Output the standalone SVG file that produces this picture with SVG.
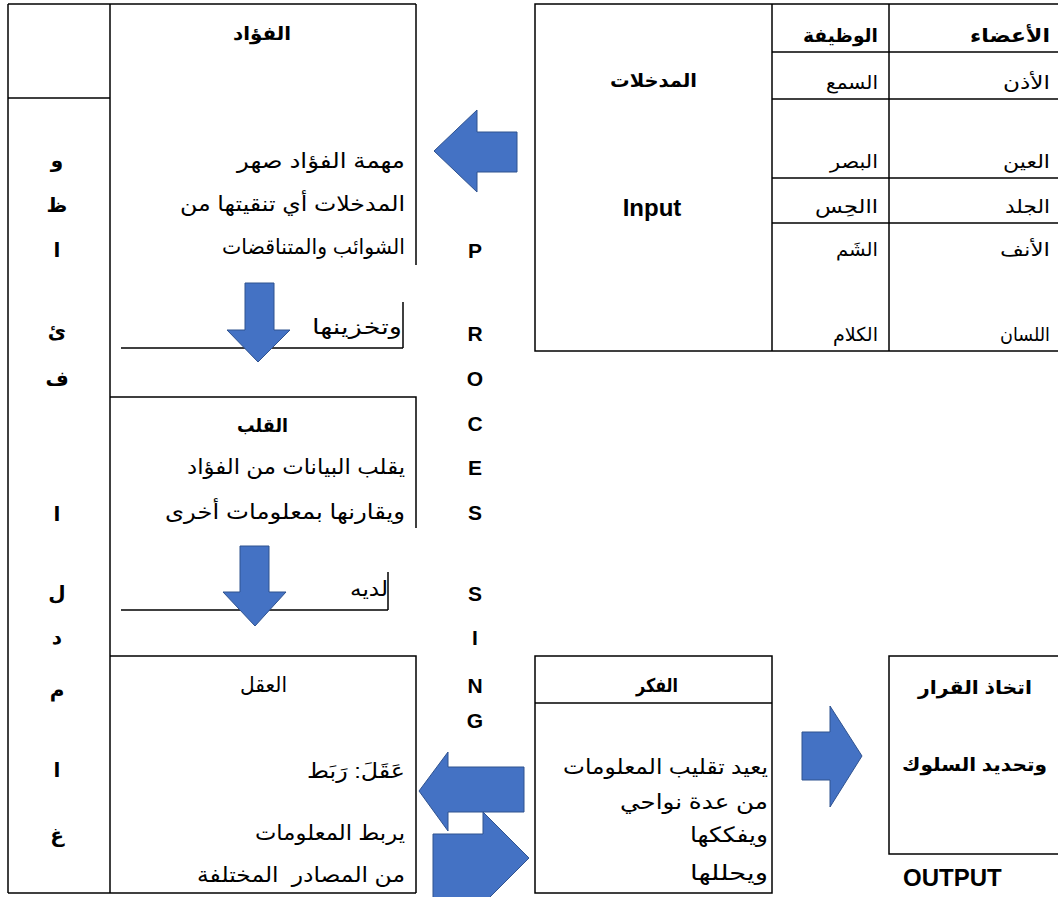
<svg xmlns="http://www.w3.org/2000/svg" width="1058" height="897" viewBox="0 0 1058 897">
<style>
  .ln { stroke: #000; stroke-width: 1.5; fill: none; }
  .bx { stroke: #000; stroke-width: 1.5; fill: #fff; }
  .ar { font-family: "Liberation Sans", "DejaVu Sans", sans-serif; font-size: 21px; fill: #000; }
  .hd { font-family: "Liberation Sans", "DejaVu Sans", sans-serif; font-size: 19px; font-weight: bold; fill: #000; }
  .tb { font-family: "Liberation Sans", "DejaVu Sans", sans-serif; font-size: 19px; fill: #000; }
  .sd { font-family: "Liberation Sans", "DejaVu Sans", sans-serif; font-size: 20px; font-weight: bold; fill: #000; text-anchor: middle; }
  .en { font-family: "Liberation Sans", Arial, sans-serif; font-weight: bold; fill: #000; }
  .arrow { fill: #4472C4; stroke: #2F528F; stroke-width: 1; }
  .r { text-anchor: end; }
  .c { text-anchor: middle; }
</style>
<rect width="1058" height="897" fill="#fff"/>

<g id="left-frame">
  <line class="ln" x1="8" y1="4" x2="416" y2="4" stroke-width="2"/>
  <line class="ln" x1="8" y1="4" x2="8" y2="893"/>
  <line class="ln" x1="110" y1="4" x2="110" y2="893"/>
  <line class="ln" x1="8" y1="98" x2="110" y2="98"/>
  <line class="ln" x1="8" y1="893" x2="416" y2="893"/>
</g>

<g id="side-title">
  <text class="sd" x="57" y="167">و</text>
  <text class="sd" x="57" y="212">ظ</text>
  <text class="sd" x="57" y="257">ا</text>
  <text class="sd" x="57" y="338">ئ</text>
  <text class="sd" x="57" y="386">ف</text>
  <text class="sd" x="57" y="521">ا</text>
  <text class="sd" x="57" y="600">ل</text>
  <text class="sd" x="57" y="644">د</text>
  <text class="sd" x="57" y="697">م</text>
  <text class="sd" x="57" y="777">ا</text>
  <text class="sd" x="57" y="842">غ</text>
</g>

<g id="fuad">
  <line class="ln" x1="416" y1="4" x2="416" y2="265"/>
  <text class="hd r" x="291" y="40" textLength="58" lengthAdjust="spacingAndGlyphs">الفؤاد</text>
  <text class="ar r" x="405" y="168" textLength="168" lengthAdjust="spacingAndGlyphs">مهمة الفؤاد صهر</text>
  <text class="ar r" x="405" y="211" textLength="225" lengthAdjust="spacingAndGlyphs">المدخلات أي تنقيتها من</text>
  <text class="ar r" x="405" y="254" textLength="183" lengthAdjust="spacingAndGlyphs">الشوائب والمتناقضات</text>
  <text class="ar r" x="402" y="334" textLength="90" lengthAdjust="spacingAndGlyphs">وتخزينها</text>
  <line class="ln" x1="403" y1="302" x2="403" y2="348"/>
  <line class="ln" x1="121" y1="348" x2="403" y2="348"/>
</g>

<g id="qalb">
  <polyline class="ln" points="110,397 416,397 416,528"/>
  <text class="hd r" x="288" y="432" textLength="51" lengthAdjust="spacingAndGlyphs">القلب</text>
  <text class="ar r" x="405" y="474" textLength="218" lengthAdjust="spacingAndGlyphs">يقلب البيانات من الفؤاد</text>
  <text class="ar r" x="405" y="519" textLength="240" lengthAdjust="spacingAndGlyphs">ويقارنها بمعلومات أخرى</text>
  <text class="ar r" x="388" y="596" textLength="38" lengthAdjust="spacingAndGlyphs">لديه</text>
  <line class="ln" x1="388" y1="572" x2="388" y2="610"/>
  <line class="ln" x1="121" y1="610" x2="388" y2="610"/>
</g>

<g id="aql">
  <polyline class="ln" points="110,656 416,656 416,893"/>
  <text class="ar r" x="287" y="692" textLength="47" lengthAdjust="spacingAndGlyphs">العقل</text>
  <text class="ar r" x="405" y="778" textLength="98" lengthAdjust="spacingAndGlyphs">عَقَلَ: رَبَط</text>
  <text class="ar r" x="405" y="840" textLength="150" lengthAdjust="spacingAndGlyphs">يربط المعلومات</text>
  <text class="ar r" x="405" y="882" xml:space="preserve" textLength="208" lengthAdjust="spacingAndGlyphs">من المصادر  المختلفة</text>
</g>

<g id="processing">
  <text class="en c" x="475" y="258" font-size="21">P</text>
  <text class="en c" x="475" y="341" font-size="21">R</text>
  <text class="en c" x="475" y="386" font-size="21">O</text>
  <text class="en c" x="475" y="431" font-size="21">C</text>
  <text class="en c" x="475" y="475" font-size="21">E</text>
  <text class="en c" x="475" y="520" font-size="21">S</text>
  <text class="en c" x="475" y="601" font-size="21">S</text>
  <text class="en c" x="475" y="645" font-size="21">I</text>
  <text class="en c" x="475" y="693" font-size="21">N</text>
  <text class="en c" x="475" y="728" font-size="21">G</text>
</g>

<g id="inputs">
  <rect class="bx" x="535" y="4" width="530" height="347" stroke-width="2"/>
  <line class="ln" x1="772" y1="4" x2="772" y2="351" stroke-width="2.5"/>
  <line class="ln" x1="889" y1="4" x2="889" y2="351"/>
  <line class="ln" x1="772" y1="52" x2="1058" y2="52" stroke-width="2"/>
  <line class="ln" x1="772" y1="99" x2="1058" y2="99"/>
  <line class="ln" x1="772" y1="178" x2="1058" y2="178"/>
  <line class="ln" x1="772" y1="223" x2="1058" y2="223"/>
  <text class="hd r" x="697" y="87" textLength="87" lengthAdjust="spacingAndGlyphs">المدخلات</text>
  <text class="en c" x="652" y="216" font-size="24">Input</text>
  <text class="hd r" x="1050" y="42" textLength="80" lengthAdjust="spacingAndGlyphs">الأعضاء</text>
  <text class="hd r" x="878" y="42" textLength="75" lengthAdjust="spacingAndGlyphs">الوظيفة</text>
  <text class="tb r" x="1050" y="89" textLength="47" lengthAdjust="spacingAndGlyphs">الأذن</text>
  <text class="tb r" x="878" y="89" textLength="52" lengthAdjust="spacingAndGlyphs">السمع</text>
  <text class="tb r" x="1050" y="168" textLength="47" lengthAdjust="spacingAndGlyphs">العين</text>
  <text class="tb r" x="878" y="168" textLength="48" lengthAdjust="spacingAndGlyphs">البصر</text>
  <text class="tb r" x="1050" y="213" textLength="45" lengthAdjust="spacingAndGlyphs">الجلد</text>
  <text class="tb r" x="878" y="213" textLength="63" lengthAdjust="spacingAndGlyphs">االحِس</text>
  <text class="tb r" x="1050" y="256" textLength="50" lengthAdjust="spacingAndGlyphs">الأنف</text>
  <text class="tb r" x="878" y="256" textLength="42" lengthAdjust="spacingAndGlyphs">الشَم</text>
  <text class="tb r" x="1050" y="341" textLength="50" lengthAdjust="spacingAndGlyphs">اللسان</text>
  <text class="tb r" x="878" y="341" textLength="45" lengthAdjust="spacingAndGlyphs">الكلام</text>
</g>

<g id="fikr">
  <rect class="bx" x="535" y="656" width="237" height="237"/>
  <line class="ln" x1="535" y1="703" x2="772" y2="703"/>
  <text class="hd r" x="678" y="692" textLength="42" lengthAdjust="spacingAndGlyphs">الفكر</text>
  <text class="ar r" x="768" y="774" textLength="205" lengthAdjust="spacingAndGlyphs">يعيد تقليب المعلومات</text>
  <text class="ar r" x="768" y="809" textLength="148" lengthAdjust="spacingAndGlyphs">من عدة نواحي</text>
  <text class="ar r" x="768" y="842" textLength="78" lengthAdjust="spacingAndGlyphs">ويفككها</text>
  <text class="ar r" x="768" y="880" textLength="78" lengthAdjust="spacingAndGlyphs">ويحللها</text>
</g>

<g id="output">
  <rect class="bx" x="889" y="656" width="180" height="198"/>
  <text class="hd r" x="1032" y="694" textLength="114" lengthAdjust="spacingAndGlyphs">اتخاذ القرار</text>
  <text class="hd r" x="1047" y="771" textLength="145" lengthAdjust="spacingAndGlyphs">وتحديد السلوك</text>
  <text class="en" x="903" y="886" font-size="24">OUTPUT</text>
</g>

<g id="connectors">
  <polygon class="arrow" points="434,151 477,110 477,132 517,132 517,172 477,172 477,192"/>
  <polygon class="arrow" points="245,283 274,283 274,330 290,330 258,362 227,330 245,330"/>
  <polygon class="arrow" points="240,546 269,546 269,592 286,592 255,626 223,592 240,592"/>
  <polygon class="arrow" points="419,791 448,752 448,767 524,767 524,812 448,812 448,831"/>
  <polygon class="arrow" points="433,834 483,834 483,812 529,858 483,904 483,900 433,900"/>
  <polygon class="arrow" points="802,732 830,732 830,706 862,756 830,807 830,780 802,780"/>
</g>
</svg>
